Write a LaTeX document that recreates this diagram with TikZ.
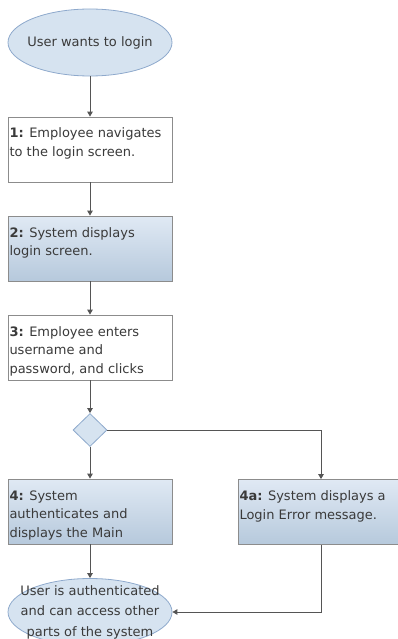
\documentclass[tikz,border=0pt]{standalone}
\usepackage{fontspec}
\setmainfont{DejaVu Sans}
\usetikzlibrary{shapes.geometric,arrows.meta}
\definecolor{txtc}{HTML}{3A3A3A}
\definecolor{boxc}{HTML}{8C8C8C}
\definecolor{gtop}{HTML}{E0E9F4}
\definecolor{gbot}{HTML}{B6C9DC}
\definecolor{ellf}{HTML}{D6E3F0}
\definecolor{ellc}{HTML}{8EA9CC}
\definecolor{arrc}{HTML}{555555}
\newcommand{\boxtext}[1]{\parbox[c][65pt][t]{161pt}{\rule{0pt}{21pt}#1}}
\begin{document}
\begin{tikzpicture}[x=1pt,y=-1pt,
  font=\fontsize{13}{18.5}\selectfont, text=txtc,
  boxw/.style={draw=boxc, line width=0.8pt, fill=white, minimum width=164pt, minimum height=65pt, inner xsep=1.5pt, inner ysep=0pt, anchor=center},
  boxb/.style={boxw, top color=gtop, bottom color=gbot},
  term/.style={ellipse, draw=ellc, line width=0.8pt, fill=ellf, minimum width=164pt, minimum height=67pt, inner sep=0pt},
  termtext/.style={align=center, inner sep=0pt, font=\fontsize{13}{20.5}\selectfont},
  decide/.style={diamond, draw=ellc, line width=0.8pt, fill=ellf, minimum width=34pt, minimum height=33pt, inner sep=0pt, aspect=1},
  flow/.style={draw=arrc, line width=1pt, -{Triangle[length=5pt,width=5.5pt]}}
]
\useasboundingbox (0,0) rectangle (398,639);

\node[term] (e1) at (90,42.5) {};
\node[termtext] (e1t) at (e1.center) {User wants to login};

\node[boxw] (s1) at (90,149.5) {\boxtext{\textbf{1:} Employee navigates\\to the login screen.}};
\node[boxb] (s2) at (90,248.5) {\boxtext{\textbf{2:} System displays\\login screen.}};
\node[boxw] (s3) at (90,347.5) {\boxtext{\textbf{3:} Employee enters\\username and\\password, and clicks}};
\node[decide] (d) at (90,430) {};
\node[boxb] (s4) at (90,511.5) {\boxtext{\textbf{4:} System\\authenticates and\\displays the Main}};
\node[boxb, minimum width=166pt] (s4a) at (321,512) {\parbox[c][65pt][t]{163pt}{\rule{0pt}{21pt}\textbf{4a:} System displays a\\Login Error message.}};

\node[term] (e2) at (90,612) {};
\node[termtext] (e2t) at (e2.center) {User is authenticated\\and can access other\\parts of the system};

\draw[flow] (e1) -- (s1);
\draw[flow] (s1) -- (s2);
\draw[flow] (s2) -- (s3);
\draw[flow] (s3) -- (d);
\draw[flow] (d) -- (s4);
\draw[flow] (d.east) -| (s4a.north);
\draw[flow] (s4) -- (e2);
\draw[flow] (s4a.south) |- (e2.east);
\end{tikzpicture}
\end{document}
